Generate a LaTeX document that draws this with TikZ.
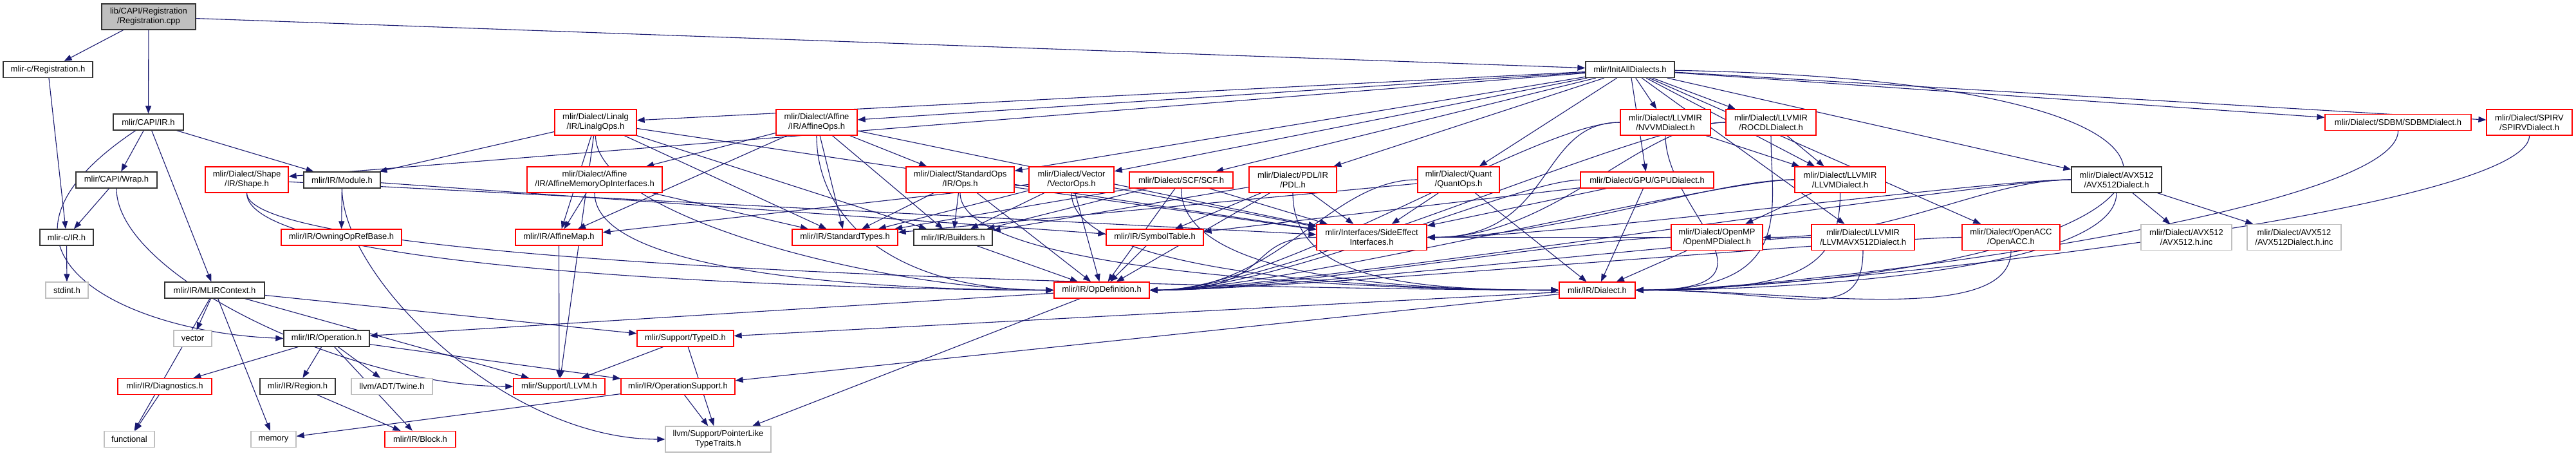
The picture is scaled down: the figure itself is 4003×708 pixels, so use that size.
\documentclass[tikz,border=0pt]{standalone}
\usepackage{fontspec}
\setmainfont{Liberation Sans}
\usetikzlibrary{arrows.meta,backgrounds}
\definecolor{edgeblue}{HTML}{191970}
\definecolor{boxred}{HTML}{FF0000}
\definecolor{boxgray}{HTML}{BFBFBF}
\begin{document}
\begin{tikzpicture}[x=1pt,y=-1pt,
  box/.style={draw,fill=white,line width=1.3pt,align=center,inner sep=0pt,
    minimum height=25pt,font=\fontsize{13}{15}\selectfont},
  tall/.style={minimum height=40pt},
  rootbox/.style={box,fill=boxgray,draw=black!80},
  blackbox/.style={box,draw=black!80},
  redbox/.style={box,draw=boxred},
  graybox/.style={box,draw=boxgray},
  edge/.style={draw=edgeblue,line width=1.1pt,-{Triangle[length=12pt,width=9pt]}}]
  \useasboundingbox (0,0) rectangle (4003,708);
  % left part: C API
  \node[rootbox,tall,minimum width=146pt] (root) at (231,26) {lib/CAPI/Registration\\/Registration.cpp};
  \node[blackbox,minimum width=139pt] (regh) at (74.5,108) {mlir-c/Registration.h};
  \node[blackbox,minimum width=109pt] (capiir) at (230.5,189.5) {mlir/CAPI/IR.h};
  \node[blackbox,minimum width=126pt] (wrap) at (181,279.5) {mlir/CAPI/Wrap.h};
  \node[redbox,tall,minimum width=129pt] (shape) at (383.5,279) {mlir/Dialect/Shape\\/IR/Shape.h};
  \node[blackbox,minimum width=119pt] (module) at (531.5,279.5) {mlir/IR/Module.h};
  \node[blackbox,minimum width=83pt] (cir) at (103.5,368.5) {mlir-c/IR.h};
  \node[redbox,minimum width=187pt] (owning) at (530.5,368.5) {mlir/IR/OwningOpRefBase.h};
  \node[graybox,minimum width=66pt] (stdint) at (104,450.5) {stdint.h};
  \node[blackbox,minimum width=155pt] (mlirctx) at (333.5,450.5) {mlir/IR/MLIRContext.h};
  \node[graybox,minimum width=59pt] (vector) at (299.5,525.5) {vector};
  \node[blackbox,minimum width=133pt] (operation) at (507.5,525.5) {mlir/IR/Operation.h};
  \node[redbox,minimum width=146pt] (diag) at (256,600) {mlir/IR/Diagnostics.h};
  \node[blackbox,minimum width=117pt] (region) at (462.5,600) {mlir/IR/Region.h};
  \node[graybox,minimum width=126pt] (twine) at (609,600) {llvm/ADT/Twine.h};
  \node[graybox,minimum width=78pt] (functional) at (201,682) {functional};
  \node[graybox,minimum width=70pt] (memory) at (425,682) {memory};
  \node[redbox,minimum width=110pt] (block) at (653,682) {mlir/IR/Block.h};
  % middle part: ops and support
  \node[redbox,tall,minimum width=127pt] (linalg) at (925.5,190) {mlir/Dialect/Linalg\\/IR/LinalgOps.h};
  \node[redbox,tall,minimum width=126pt] (affineops) at (1269,190) {mlir/Dialect/Affine\\/IR/AffineOps.h};
  \node[redbox,tall,minimum width=210pt] (affmem) at (924,279) {mlir/Dialect/Affine\\/IR/AffineMemoryOpInterfaces.h};
  \node[redbox,tall,minimum width=168pt] (stdops) at (1492,279) {mlir/Dialect/StandardOps\\/IR/Ops.h};
  \node[redbox,minimum width=135pt] (affmap) at (868.5,368.5) {mlir/IR/AffineMap.h};
  \node[redbox,minimum width=164pt] (stdtypes) at (1313,368.5) {mlir/IR/StandardTypes.h};
  \node[blackbox,minimum width=122pt] (builders) at (1481,368.5) {mlir/IR/Builders.h};
  \node[redbox,minimum width=150pt] (typeid) at (1065,525.5) {mlir/Support/TypeID.h};
  \node[redbox,minimum width=142pt] (llvm) at (869,600) {mlir/Support/LLVM.h};
  \node[redbox,minimum width=177pt] (opsupport) at (1053.5,600) {mlir/IR/OperationSupport.h};
  \node[graybox,tall,minimum width=164pt] (ptrlike) at (1116,682) {llvm/Support/PointerLike\\TypeTraits.h};
  \node[redbox,tall,minimum width=132pt] (vectorops) at (1665,279) {mlir/Dialect/Vector\\/VectorOps.h};
  \node[redbox,minimum width=161pt] (scf) at (1835.5,279.5) {mlir/Dialect/SCF/SCF.h};
  \node[redbox,tall,minimum width=136pt] (pdl) at (2009,279) {mlir/Dialect/PDL/IR\\/PDL.h};
  \node[redbox,tall,minimum width=127pt] (quant) at (2266.5,279) {mlir/Dialect/Quant\\/QuantOps.h};
  \node[redbox,minimum width=151pt] (symtab) at (1794.5,368.5) {mlir/IR/SymbolTable.h};
  \node[redbox,tall,minimum width=171pt] (sideeff) at (2131.5,368.5) {mlir/Interfaces/SideEffect\\Interfaces.h};
  \node[redbox,minimum width=148pt] (opdef) at (1712,450.5) {mlir/IR/OpDefinition.h};
  % right part: dialects
  \node[blackbox,minimum width=138pt] (initall) at (2533,108) {mlir/InitAllDialects.h};
  \node[redbox,tall,minimum width=140pt] (nvvm) at (2588,190) {mlir/Dialect/LLVMIR\\/NVVMDialect.h};
  \node[redbox,tall,minimum width=140pt] (rocdl) at (2752,190) {mlir/Dialect/LLVMIR\\/ROCDLDialect.h};
  \node[redbox,minimum width=207pt] (gpu) at (2559.5,279.5) {mlir/Dialect/GPU/GPUDialect.h};
  \node[redbox,tall,minimum width=141pt] (llvmdial) at (2859.5,279) {mlir/Dialect/LLVMIR\\/LLVMDialect.h};
  \node[redbox,tall,minimum width=142pt] (openmp) at (2668,368.5) {mlir/Dialect/OpenMP\\/OpenMPDialect.h};
  \node[redbox,tall,minimum width=160pt] (llvmavx) at (2895,368.5) {mlir/Dialect/LLVMIR\\/LLVMAVX512Dialect.h};
  \node[redbox,tall,minimum width=152pt] (openacc) at (3125,368.5) {mlir/Dialect/OpenACC\\/OpenACC.h};
  \node[redbox,minimum width=118pt] (dialect) at (2482,450.5) {mlir/IR/Dialect.h};
  \node[blackbox,tall,minimum width=140pt] (avx512) at (3289,279) {mlir/Dialect/AVX512\\/AVX512Dialect.h};
  \node[redbox,minimum width=227pt] (sdbm) at (3726.5,190) {mlir/Dialect/SDBM/SDBMDialect.h};
  \node[redbox,tall,minimum width=133pt] (spirv) at (3930.5,190) {mlir/Dialect/SPIRV\\/SPIRVDialect.h};
  \node[graybox,tall,minimum width=141pt] (avxinc) at (3397.5,368.5) {mlir/Dialect/AVX512\\/AVX512.h.inc};
  \node[graybox,tall,minimum width=146pt] (avxdinc) at (3565,368.5) {mlir/Dialect/AVX512\\/AVX512Dialect.h.inc};
  \begin{pgfonlayer}{background}
    % straight includes
    \foreach \a/\b in {root/regh,root/capiir,root/initall,regh/cir,capiir/wrap,capiir/module,
        capiir/mlirctx,wrap/cir,cir/stdint,module/owning,module/symtab,mlirctx/functional,
        mlirctx/vector,mlirctx/memory,mlirctx/typeid,mlirctx/llvm,operation/diag,operation/region,
        operation/twine,operation/block,operation/opsupport,diag/functional,region/block,
        opsupport/memory,opsupport/ptrlike,typeid/llvm,typeid/ptrlike,affmap/llvm,
        linalg/module,linalg/affmap,linalg/llvm,linalg/stdtypes,linalg/builders,linalg/sideeff,
        affineops/affmem,affineops/stdops,affineops/affmap,affineops/stdtypes,affineops/builders,
        affineops/sideeff,affmem/affmap,affmem/stdtypes,stdops/stdtypes,
        stdops/builders,stdops/sideeff,stdops/opdef,builders/opdef,symtab/opdef,
        opdef/operation,opdef/ptrlike,dialect/typeid,dialect/opsupport,vectorops/affmap,
        vectorops/stdtypes,vectorops/builders,vectorops/opdef,vectorops/sideeff,scf/builders,
        scf/stdtypes,scf/sideeff,scf/opdef,pdl/symtab,pdl/sideeff,pdl/opdef,
        pdl/builders,quant/sideeff,quant/stdtypes,quant/dialect,gpu/symtab,gpu/sideeff,
        gpu/dialect,nvvm/llvmdial,rocdl/llvmdial,llvmdial/openmp,openmp/dialect,
        avx512/avxinc,avx512/avxdinc,initall/linalg,initall/affineops,initall/shape,
        initall/stdops,initall/vectorops,initall/scf,initall/pdl,initall/quant,initall/gpu,
        initall/nvvm,initall/rocdl,initall/llvmdial,initall/llvmavx,initall/openacc,
        initall/avx512,initall/sdbm,initall/spirv,shape/sideeff}
      \draw[edge] (\a) -- (\b);
    % leftwards into the east side
    \foreach \a/\b in {sideeff/opdef,quant/opdef,gpu/opdef,nvvm/opdef,rocdl/opdef,
        llvmdial/opdef,openmp/opdef,llvmavx/opdef,openacc/opdef,avx512/opdef,nvvm/sideeff,
        rocdl/sideeff,llvmdial/sideeff,openmp/sideeff,avx512/sideeff,avx512/openmp}
      \draw[edge] (\a) .. controls +(-200,0) and +(200,0) .. (\b.east);
    % down, then into the east side
    \foreach \a/\b in {sdbm/dialect,spirv/dialect,rocdl/dialect,nvvm/dialect,llvmdial/dialect,
        llvmavx/dialect,openacc/dialect,avx512/dialect}
      \draw[edge] (\a) .. controls +(0,140) and +(250,0) .. (\b.east);
    % down, then into the west side
    \foreach \a/\b in {shape/opdef,shape/dialect,wrap/llvm,module/ptrlike,linalg/opdef,
        affineops/opdef,affmem/opdef,stdops/dialect,vectorops/dialect,scf/dialect,pdl/dialect}
      \draw[edge] (\a) .. controls +(0,150) and +(-250,0) .. (\b.west);
    \draw[edge] (capiir) .. controls +(-300,200) and +(-250,-10) .. (operation.west);
    \draw[edge] (initall) .. controls +(1100,20) and +(900,-20) .. (dialect.east);
  \end{pgfonlayer}
\end{tikzpicture}
\end{document}
